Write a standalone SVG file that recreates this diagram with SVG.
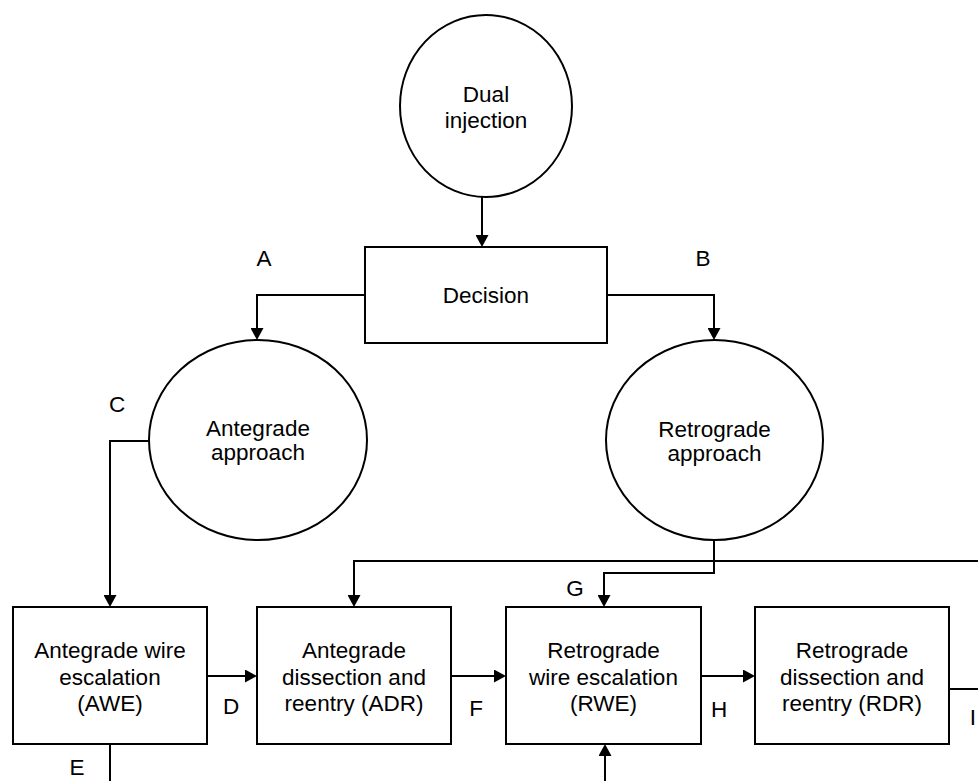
<svg xmlns="http://www.w3.org/2000/svg" width="978" height="781" viewBox="0 0 978 781">
<style>
.shape{fill:#fff;stroke:#000;stroke-width:2}
.conn{fill:none;stroke:#000;stroke-width:2;marker-end:url(#arr)}
.plain{fill:none;stroke:#000;stroke-width:2}
text{font-family:"Liberation Sans",Arial,sans-serif;font-size:22.5px;fill:#000;text-anchor:middle}
</style>
<defs>
<marker id="arr" viewBox="0 0 12 13" refX="8" refY="6.5" markerWidth="12" markerHeight="13" orient="auto" markerUnits="userSpaceOnUse">
<path d="M0,0 L12,6.5 L0,13 Z" fill="#000"/>
</marker>
</defs>
<rect width="978" height="781" fill="#fff"/>
<g id="connectors">
<path class="conn" d="M482,197 V243"/>
<path class="conn" d="M365,295 H257 V336"/>
<path class="conn" d="M607,295 H714 V336"/>
<path class="conn" d="M149,441 H110 V603"/>
<path class="conn" d="M207,676 H253"/>
<path class="conn" d="M451,676 H502"/>
<path class="conn" d="M701,676 H751"/>
<path class="plain" d="M110,744 V781"/>
<path class="plain" d="M949,689 H978"/>
<path class="conn" d="M605,781 V748"/>
<path class="conn" d="M978,561 H354 V603"/>
<path class="conn" d="M714,540 V573 H604 V603"/>
<text x="264" y="266">A</text>
<text x="703" y="266">B</text>
<text x="117" y="412">C</text>
<text x="231" y="714">D</text>
<text x="77" y="775">E</text>
<text x="476" y="716">F</text>
<text x="575" y="596">G</text>
<text x="719" y="717">H</text>
<text x="973" y="725">I</text>
</g>
<g id="dual">
<ellipse class="shape" cx="486" cy="106" rx="86" ry="91"/>
<text x="486" y="102">Dual</text>
<text x="486" y="127.5">injection</text>
</g>
<g id="decision">
<rect class="shape" x="365" y="247" width="242" height="96"/>
<text x="486" y="303">Decision</text>
</g>
<g id="antegrade">
<ellipse class="shape" cx="258" cy="440" rx="109" ry="100"/>
<text x="258" y="436">Antegrade</text>
<text x="258" y="460">approach</text>
</g>
<g id="retrograde">
<ellipse class="shape" cx="714.5" cy="440" rx="108.5" ry="100"/>
<text x="714.5" y="437">Retrograde</text>
<text x="714.5" y="461">approach</text>
</g>
<g id="awe">
<rect class="shape" x="13" y="607" width="194" height="137"/>
<text x="110" y="658">Antegrade wire</text>
<text x="110" y="684.5">escalation</text>
<text x="110" y="711">(AWE)</text>
</g>
<g id="adr">
<rect class="shape" x="257" y="607" width="194" height="137"/>
<text x="354" y="658">Antegrade</text>
<text x="354" y="684.5">dissection and</text>
<text x="354" y="711">reentry (ADR)</text>
</g>
<g id="rwe">
<rect class="shape" x="506" y="607" width="195" height="137"/>
<text x="603.5" y="658">Retrograde</text>
<text x="603.5" y="684.5">wire escalation</text>
<text x="603.5" y="711">(RWE)</text>
</g>
<g id="rdr">
<rect class="shape" x="755" y="607" width="194" height="137"/>
<text x="852" y="658">Retrograde</text>
<text x="852" y="684.5">dissection and</text>
<text x="852" y="711">reentry (RDR)</text>
</g>
</svg>
